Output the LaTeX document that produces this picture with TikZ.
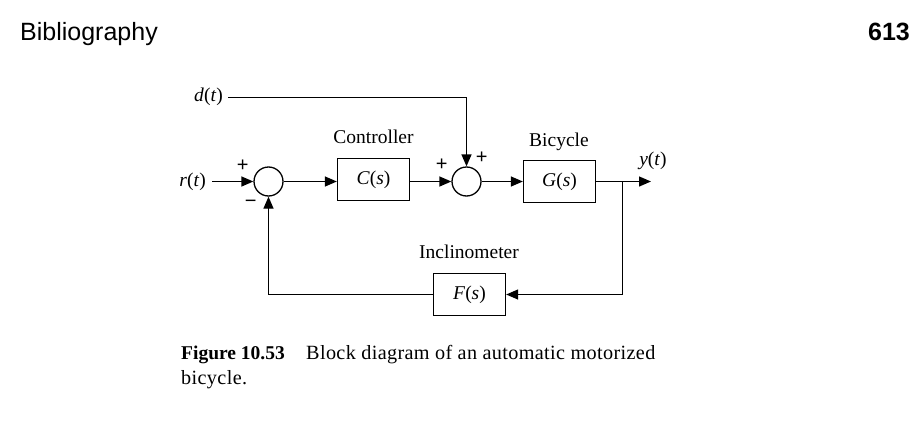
\documentclass[tikz,border=0pt]{standalone}
\usepackage{fontspec}
\setmainfont{Liberation Serif}
\newfontfamily\hdrfont{Liberation Sans}
\newfontfamily\capfont[LetterSpace=1.8]{Liberation Serif}
\usetikzlibrary{arrows.meta}
\tikzset{
  blk/.style={draw, line width=1.3pt, minimum width=72pt, minimum height=42pt, inner sep=0pt},
  sumnode/.style={draw, circle, line width=1.3pt, minimum size=29pt, inner sep=0pt},
  conn/.style={line width=1.3pt, -{Triangle[length=12pt,width=10pt]}},
  lbl/.style={font=\fontsize{19.5}{22}\selectfont, inner sep=0pt},
  sgn/.style={font=\fontsize{20}{22}\selectfont\hdrfont, inner sep=0pt}
}
\newcommand{\vi}[1]{\textit{#1}}
\begin{document}
\begin{tikzpicture}[x=1pt,y=-1pt]
\useasboundingbox (0,0) rectangle (918,423);
% header
\node[anchor=base west, inner sep=0pt, font=\fontsize{25}{28}\selectfont\hdrfont] (hdr) at (20,40) {Bibliography};
\node[anchor=base east, inner sep=0pt, font=\fontsize{25}{28}\selectfont\hdrfont\bfseries] (pg) at (910,40) {613};
% blocks
\node[sumnode] (s1) at (268.5,181.5) {};
\node[sumnode] (s2) at (466.5,181.5) {};
\node[blk, lbl] (C) at (373.5,179.5) {\vi{C}(\vi{s})};
\node[blk, lbl] (G) at (559.5,181.5) {\vi{G}(\vi{s})};
\node[blk, lbl] (F) at (469.5,294.5) {\vi{F}(\vi{s})};
% labels
\node[lbl, anchor=base] (lc) at (373.5,143) {Controller};
\node[lbl, anchor=base] (lg) at (559,146) {Bicycle};
\node[lbl, anchor=base] (lf) at (469,258) {Inclinometer};
\node[lbl, anchor=east] (r) at (206,182) {\vi{r}(\vi{t})};
\node[lbl, anchor=east] (d) at (223,97) {\vi{d}(\vi{t})};
\node[lbl] (y) at (653,161) {\vi{y}(\vi{t})};
\node[sgn] (p1) at (242.7,166) {+};
\node[sgn] (m1) at (250.7,204) {\textminus};
\node[sgn] (p2) at (441.7,165) {+};
\node[sgn] (p3) at (481.7,158) {+};
% coordinates
\coordinate (rs) at (212,181.5);
\coordinate (ds) at (228,97.5);
\coordinate (dc) at (466.5,97.5);
\coordinate (br) at (622.5,181.5);
\coordinate (yo) at (651,181.5);
\coordinate (bb) at (622.5,294.5);
\coordinate (fl) at (268.5,294.5);
% connectors
\draw[conn] (rs) -- (s1.west);
\draw[conn] (s1.east) -- (s1.east -| C.west);
\draw[conn] (s2.west -| C.east) -- (s2.west);
\draw[conn] (s2.east) -- (s2.east -| G.west);
\draw[conn] (s2.east -| G.east) -- (yo);
\draw[conn] (ds) -- (dc) -- (s2.north);
\draw[conn] (br) -- (bb) -- (bb -| F.east);
\draw[conn] (fl -| F.west) -- (fl) -- (s1.south);
% caption
\node[anchor=base west, inner sep=0pt, font=\fontsize{19.5}{22}\selectfont\bfseries] (cap1) at (181,359) {Figure 10.53};
\node[anchor=base west, inner sep=0pt, font=\fontsize{20.2}{22}\capfont] (cap2) at (306,359) {Block diagram of an automatic motorized};
\node[anchor=base west, inner sep=0pt, font=\fontsize{20.2}{22}\capfont] (cap3) at (181,384) {bicycle.};
\end{tikzpicture}
\end{document}
